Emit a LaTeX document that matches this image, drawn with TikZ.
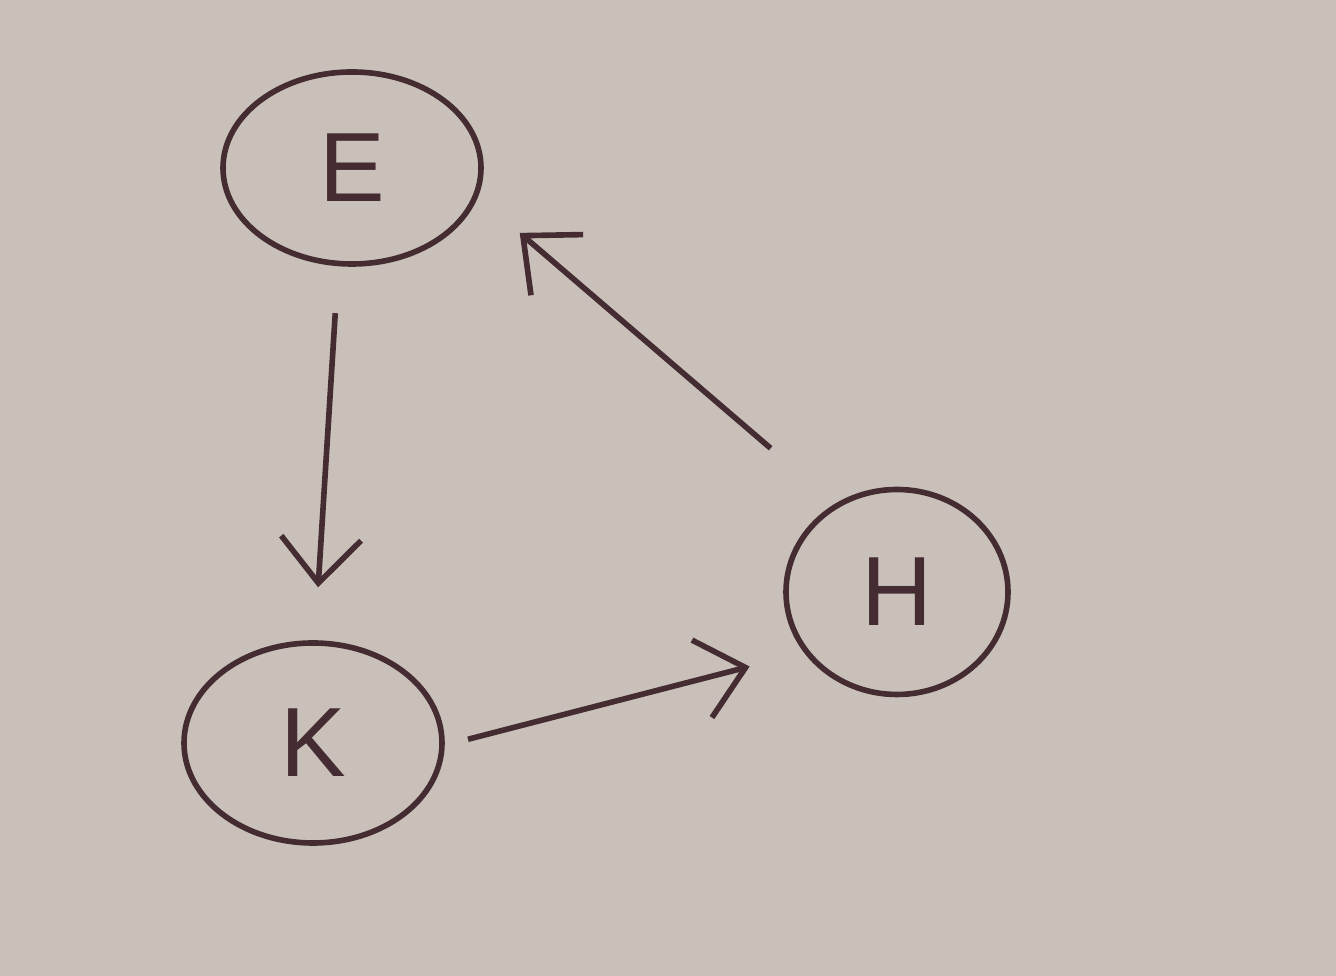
\documentclass[tikz,border=0pt]{standalone}
\usepackage{fontspec}
\setmainfont{Liberation Sans}
\usepackage{tikz}
\usetikzlibrary{arrows.meta,shapes.geometric}
\definecolor{paper}{RGB}{201,193,185}
\definecolor{ink}{RGB}{68,44,50}

\begin{document}
\begin{tikzpicture}[
  x=1cm, y=1cm,
  blob/.style={ellipse, draw=ink, line width=1.6pt, inner sep=0pt,
               font=\fontsize{28}{32}\selectfont, text=ink},
  ar/.style  ={draw=ink, line width=1.6pt,
               -{Straight Barb[length=4.5mm,width=8mm,line width=1.6pt]}}]

% paper
\fill[paper] (0,0) rectangle (13.36,9.76);
\useasboundingbox (0,0) rectangle (13.36,9.76);

% ----------------------------- nodes ---------------------------------
\node[blob, minimum width=2.58cm, minimum height=1.92cm] (E) at (3.52,8.08) {E};
\node[blob, minimum width=2.58cm, minimum height=2.00cm] (K) at (3.13,2.33) {K};
\node[blob, minimum width=2.22cm, minimum height=2.05cm] (H) at (8.97,3.84) {H};

% ----------------------------- cycle ---------------------------------
\draw[ar, shorten <=0.47cm, shorten >=0.53cm] (E.262) -- (K.89);
\draw[ar, shorten <=0.24cm, shorten >=0.56cm] (K.-1) -- (H.213);
\draw[ar, shorten <=0.85cm, shorten >=0.55cm] (H.125) -- (E.-13);

\end{tikzpicture}
\end{document}
